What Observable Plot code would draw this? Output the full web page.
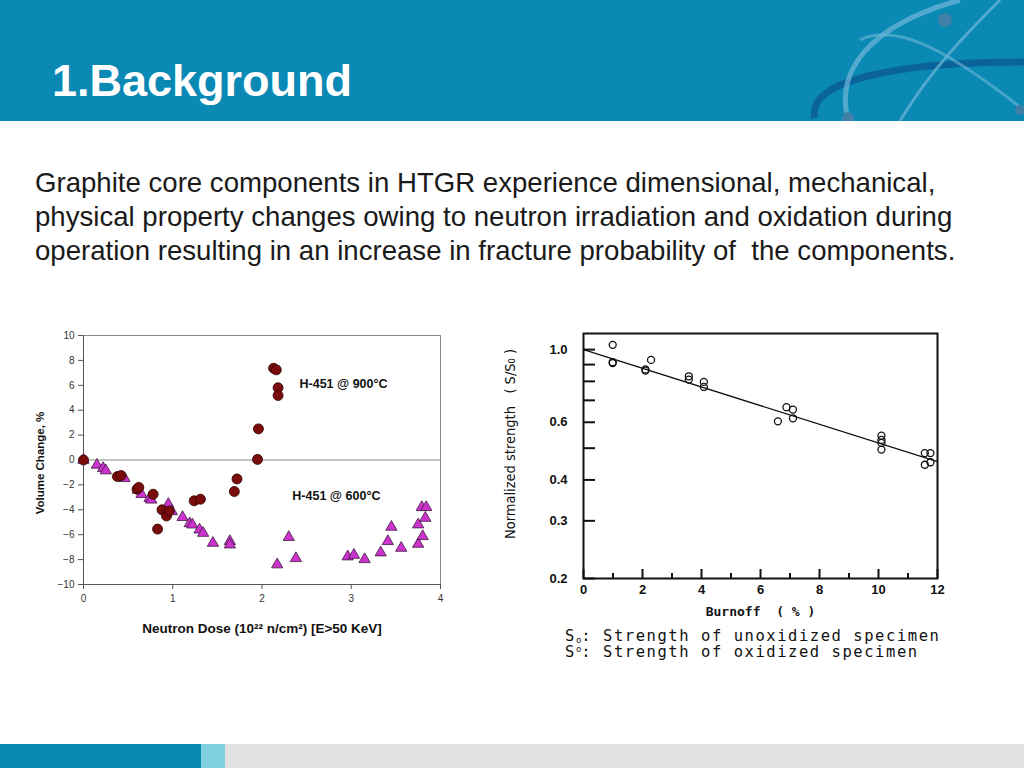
<!DOCTYPE html>
<html>
<head>
<meta charset="utf-8">
<script src="https://cdn.jsdelivr.net/npm/d3@7"></script>
<script src="https://cdn.jsdelivr.net/npm/@observablehq/plot@0.6"></script>
<style>
  html, body { margin:0; padding:0; background:#fff; }
  #page { position:relative; width:1024px; height:768px; overflow:hidden; font-family:"Liberation Sans", Arial, sans-serif; }
  #header { position:absolute; left:0; top:0; width:1024px; height:121px; background:#0a89b5; }
  #title { position:absolute; left:52px; top:55px; color:#fff; font-weight:bold; font-size:45px; line-height:52px; }
  #body { position:absolute; left:35px; top:166px; width:990px; font-size:27.6px; line-height:34px; color:#1a1a1a; white-space:nowrap; }
  #left { position:absolute; left:30px; top:325px; }
  #right { position:absolute; left:495px; top:325px; }
  .cap { position:absolute; left:565px; font-family:"DejaVu Sans Mono", "Liberation Mono", monospace; font-size:15.5px; line-height:15px; height:15px; color:#111; letter-spacing:1.55px; white-space:nowrap; }
  .cap .o { font-size:9px; position:relative; letter-spacing:0; }
  #footer1 { position:absolute; left:0; top:744px; width:201px; height:24px; background:#0a89b5; }
  #footer2 { position:absolute; left:201px; top:744px; width:24px; height:24px; background:#80d0e2; }
  #footer3 { position:absolute; left:225px; top:744px; width:799px; height:24px; background:#e1e1e1; }
</style>
</head>
<body>
<div id="page">
  <div id="header">
    <svg width="1024" height="121" style="position:absolute;left:0;top:0">
      <path d="M815,118 C805,80 900,62 1024,62" fill="none" stroke="#0b5f98" stroke-width="7" opacity="0.9"/>
      <path d="M848,120 C835,70 870,25 960,0" fill="none" stroke="#6fb8d8" stroke-width="5" opacity="0.7"/>
      <path d="M900,121 C930,70 970,30 1000,0" fill="none" stroke="#6fb8d8" stroke-width="3" opacity="0.7"/>
      <path d="M860,40 C900,20 960,60 1024,110" fill="none" stroke="#6fb8d8" stroke-width="3" opacity="0.6"/>
      <circle cx="945" cy="20" r="7" fill="#3f7fa8"/>
      <circle cx="848" cy="118" r="6" fill="#3f7fa8"/>
      <circle cx="1020" cy="110" r="5" fill="#3f7fa8"/>
    </svg>
    <div id="title">1.Background</div>
  </div>
  <div id="body">Graphite core components in HTGR experience dimensional, mechanical,<br>physical property changes owing to neutron irradiation and oxidation during<br>operation resulting in an increase in fracture probability of&nbsp; the components.</div>
  <div id="left"></div>
  <div id="right"></div>
  <div class="cap" style="top:629px">S<span class="o" style="top:2px">o</span>: Strength of unoxidized specimen</div>
  <div class="cap" style="top:645px">S<span class="o" style="top:-5px">o</span>: Strength of oxidized specimen</div>
  <div id="footer1"></div><div id="footer2"></div><div id="footer3"></div>
</div>
<script>
// ---- Left chart data: volume change vs neutron dose ----
const dose900 = [0, 0.38, 0.42, 0.60, 0.62, 0.78, 0.88, 0.93, 0.96, 0.83, 1.24, 1.31, 1.69, 1.72, 1.95, 1.96, 2.13, 2.16, 2.18, 2.18];
const vol900  = [0, -1.33, -1.25, -2.35, -2.2, -2.75, -4.0, -4.5, -4.1, -5.55, -3.28, -3.15, -2.53, -1.52, 0.05, 2.5, 7.37, 7.24, 5.8, 5.18];
const dose600 = [0, 0.15, 0.22, 0.25, 0.46, 0.61, 0.65, 0.74, 0.76, 0.95, 0.99, 1.11, 1.19, 1.22, 1.30, 1.34, 1.45, 1.64, 1.64, 2.17, 2.30, 2.38, 2.96, 3.03, 3.15, 3.33, 3.41, 3.45, 3.56, 3.75, 3.75, 3.79, 3.84, 3.83, 3.80];
const vol600  = [0, -0.4, -0.67, -0.85, -1.47, -2.4, -2.75, -3.07, -3.2, -3.55, -4.13, -4.6, -5.1, -5.2, -5.6, -5.87, -6.67, -6.53, -6.8, -8.4, -6.2, -7.9, -7.76, -7.63, -7.98, -7.44, -6.53, -5.38, -7.07, -5.19, -6.75, -3.8, -3.8, -4.66, -6.13];
const leftXTicks = [0, 1, 2, 3, 4];
const leftYTicks = [-10, -8, -6, -4, -2, 0, 2, 4, 6, 8, 10];
const seriesLabels = ["H-451 @ 900°C", "H-451 @ 600°C"];
const seriesLabelX = [2.42, 2.34];
const seriesLabelY = [6.1, -2.9];

// ---- Right chart data: normalized strength vs burnoff ----
const burnoff  = [0.99, 0.99, 0.99, 2.1, 2.1, 2.29, 3.57, 3.57, 4.08, 4.08, 6.59, 6.88, 7.10, 7.10, 10.1, 10.1, 10.1, 10.1, 11.57, 11.76, 11.76, 11.57];
const strength = [1.034, 0.915, 0.91, 0.863, 0.87, 0.93, 0.829, 0.81, 0.797, 0.769, 0.604, 0.667, 0.656, 0.617, 0.546, 0.530, 0.519, 0.495, 0.483, 0.483, 0.453, 0.445];
const fitX = [0, 12];
const fitY = [1.0, 0.455];
const rightMajorX = [0, 2, 4, 6, 8, 10, 12];
const rightMinorX = [1, 3, 5, 7, 9, 11];
const rightYTicks = [0.2, 0.3, 0.4, 0.5, 0.6, 0.7, 0.8, 0.9, 1.0];
const rightYLabeled = [0.2, 0.3, 0.4, 0.6, 0.8, 1.0];

const pts900 = dose900.map((x, i) => ({x, y: vol900[i]}));
const pts600 = dose600.map((x, i) => ({x, y: vol600[i]}));
const lbls = seriesLabels.map((t, i) => ({t, x: seriesLabelX[i], y: seriesLabelY[i]}));

const left = Plot.plot({
  width: 420, height: 320,
  marginLeft: 53, marginRight: 10, marginTop: 10, marginBottom: 61,
  style: {fontFamily: "Liberation Sans, Arial, sans-serif", fontSize: "10px", color: "#333", background: "transparent", overflow: "visible"},
  x: {domain: [0, 4]},
  y: {domain: [-10, 10]},
  marks: [
    Plot.frame({stroke: "#8a8a8a"}),
    Plot.ruleY([0], {stroke: "#8a8a8a"}),
    Plot.axisX(leftXTicks, {tickSize: 5, tickPadding: 5, stroke: "#555", fill: "#333", label: null}),
    Plot.axisY(leftYTicks, {tickSize: 5, tickPadding: 4, stroke: "#555", fill: "#333", label: null}),
    Plot.ruleX([0], {stroke: "#555"}),
    Plot.ruleY([-10], {stroke: "#555"}),
    Plot.dot(pts600, {x: "x", y: "y", symbol: "triangle", r: 4.2, fill: "#cc33cc", stroke: "#3d1a40", strokeWidth: 0.8}),
    Plot.dot(pts900, {x: "x", y: "y", r: 5, fill: "#7b0c0c", stroke: "#2b0000", strokeWidth: 0.8}),
    Plot.text(lbls, {x: "x", y: "y", text: "t", textAnchor: "start", fontSize: 12.5, fontWeight: "bold", fill: "#111"}),
    Plot.text(["Neutron Dose (10²² n/cm²) [E>50 KeV]"], {frameAnchor: "bottom", dy: 48, text: d => d, fontSize: 13.5, fontWeight: "bold", fill: "#111"}),
    Plot.text(["Volume Change, %"], {frameAnchor: "left", textAnchor: "middle", dx: -43, dy: 3, rotate: -90, text: d => d, fontSize: 11.5, fontWeight: "bold", fill: "#111"})
  ]
});
document.getElementById("left").appendChild(left);

const dataR = burnoff.map((x, i) => ({x, y: strength[i]}));
const fit = fitX.map((x, i) => ({x, y: fitY[i]}));
const fmt = d3.format(".1f");
const right = Plot.plot({
  width: 460, height: 300,
  marginLeft: 88, marginRight: 18, marginTop: 8, marginBottom: 47,
  style: {fontFamily: "Liberation Sans, Arial, sans-serif", fontSize: "13px", color: "#111", background: "transparent", overflow: "visible"},
  x: {domain: [0, 12]},
  y: {type: "log", domain: [0.2, 1.12]},
  marks: [
    Plot.frame({stroke: "#111", strokeWidth: 2}),
    Plot.axisX(rightMajorX, {tickSize: -9, tickPadding: 15, strokeWidth: 2, fontWeight: "bold", label: null, tickFormat: d => String(d)}),
    Plot.axisX(rightMinorX, {tickSize: -5, tickPadding: 15, strokeWidth: 2, tickFormat: () => "", label: null}),
    Plot.axisY(rightYTicks, {tickSize: -12, tickPadding: 28, strokeWidth: 2, fontWeight: "bold", label: null,
      tickFormat: d => rightYLabeled.some(v => Math.abs(v - d) < 1e-9) ? fmt(d) : ""}),
    Plot.line(fit, {x: "x", y: "y", stroke: "#111", strokeWidth: 1.3}),
    Plot.dot(dataR, {x: "x", y: "y", r: 3.5, stroke: "#111", strokeWidth: 1.3, fill: "none"}),
    Plot.text(["Burnoff\u00a0\u00a0(\u00a0%\u00a0)"], {frameAnchor: "bottom", dy: 37, text: d => d, fontSize: 13, fontWeight: "bold", fontFamily: "DejaVu Sans Mono, monospace", fill: "#111"}),
    Plot.text(["Normalized strength\u00a0\u00a0\u00a0(\u00a0S/S₀\u00a0)"], {frameAnchor: "left", textAnchor: "middle", dx: -73, dy: -12, rotate: -90, text: d => d, fontSize: 14.5, fontFamily: "Liberation Sans Narrow, DejaVu Sans Condensed, sans-serif", fill: "#111"})
  ]
});
document.getElementById("right").appendChild(right);
</script>
</body>
</html>
